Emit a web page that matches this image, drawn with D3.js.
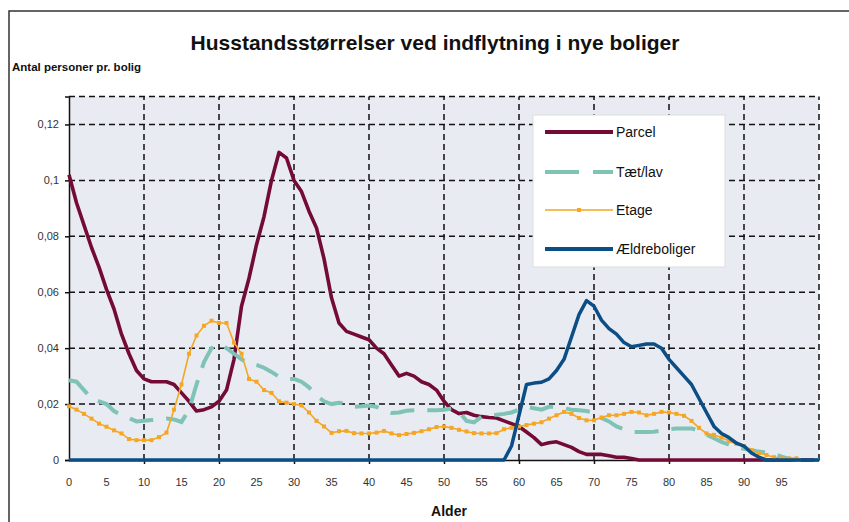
<!DOCTYPE html>
<html>
<head>
<meta charset="utf-8">
<script src="https://cdn.jsdelivr.net/npm/d3@7"></script>
<style>
  body { margin: 0; background: #fff; }
  svg { display: block; font-family: "Liberation Sans", Arial, sans-serif; }
</style>
</head>
<body>
<svg id="chart" width="849" height="522"></svg>
<script>
// ages 0..100
const ages = d3.range(0, 101);

const parcel = [
  0.102, 0.092, 0.084, 0.076, 0.069, 0.061, 0.054, 0.045, 0.038, 0.032,
  0.029, 0.028, 0.028, 0.028, 0.027, 0.024, 0.021, 0.0175, 0.018, 0.019,
  0.021, 0.025, 0.036, 0.055, 0.065, 0.077, 0.087, 0.1, 0.11, 0.108,
  0.1, 0.096, 0.089, 0.083, 0.072, 0.058, 0.049, 0.046, 0.045, 0.044,
  0.043, 0.04, 0.038, 0.034, 0.03, 0.031, 0.03, 0.028, 0.027, 0.025,
  0.021, 0.018, 0.0166, 0.017, 0.016, 0.0155, 0.0152, 0.015, 0.014, 0.013,
  0.012, 0.01, 0.008, 0.0055, 0.0062, 0.0065, 0.0055, 0.0045, 0.003, 0.002,
  0.002, 0.002, 0.0015, 0.001, 0.001, 0.0005, 0, 0, 0, 0,
  0, 0, 0, 0, 0, 0, 0, 0, 0, 0,
  0, 0, 0, 0, 0, 0, 0, 0, 0, 0, 0
];

const taetLav = [
  0.0285, 0.028, 0.025, 0.022, 0.021, 0.02, 0.0175, 0.016, 0.015, 0.0138,
  0.014, 0.0143, 0.0145, 0.0148, 0.0145, 0.0136, 0.018, 0.027, 0.035, 0.04,
  0.0415, 0.04, 0.038, 0.036, 0.0345, 0.034, 0.033, 0.0315, 0.0298, 0.029,
  0.029, 0.028, 0.026, 0.023, 0.021, 0.02, 0.0205, 0.02, 0.019, 0.0192,
  0.0195, 0.019, 0.0178, 0.0168, 0.017, 0.0176, 0.0178, 0.0178, 0.0178, 0.0178,
  0.018, 0.0184, 0.0172, 0.014, 0.0135, 0.0155, 0.016, 0.0162, 0.0165, 0.017,
  0.018, 0.019, 0.0185, 0.018, 0.019, 0.019, 0.0185, 0.018, 0.0178, 0.0175,
  0.017, 0.015, 0.0138, 0.012, 0.011, 0.01, 0.01, 0.01, 0.0101, 0.0105,
  0.011, 0.0113, 0.0113, 0.0113, 0.0105, 0.009, 0.0078, 0.0065, 0.0055, 0.0045,
  0.004, 0.0035, 0.003, 0.0027, 0.0022, 0.0012, 0.0004, 0, 0, 0, 0
];

const etage = [
  0.0192, 0.018, 0.0165, 0.0148, 0.013, 0.0119, 0.0106, 0.0095, 0.0075, 0.0071,
  0.0071, 0.0071, 0.0082, 0.0098, 0.018, 0.027, 0.038, 0.0445, 0.048, 0.0498,
  0.049, 0.049, 0.042, 0.038, 0.029, 0.028, 0.025, 0.024, 0.021, 0.0205,
  0.02, 0.0195, 0.017, 0.014, 0.012, 0.0097, 0.0103, 0.0104, 0.0096, 0.0095,
  0.0095, 0.0098, 0.0104, 0.0095, 0.0089, 0.0093, 0.0097, 0.0103, 0.011, 0.0118,
  0.012, 0.0115, 0.0108, 0.0102, 0.0096, 0.0095, 0.0095, 0.0096, 0.011, 0.0115,
  0.012, 0.0125, 0.013, 0.0135, 0.0148, 0.016, 0.0172, 0.0165, 0.015, 0.0142,
  0.0142, 0.0152, 0.016, 0.016, 0.0165, 0.0172, 0.017, 0.016, 0.0165, 0.0172,
  0.017, 0.0165, 0.0158, 0.014, 0.0115, 0.0095, 0.009, 0.008, 0.0068, 0.0058,
  0.005, 0.0035, 0.0025, 0.0018, 0.001, 0.0006, 0.0006, 0.0006
];

const aeldre = [
  0, 0, 0, 0, 0, 0, 0, 0, 0, 0,
  0, 0, 0, 0, 0, 0, 0, 0, 0, 0,
  0, 0, 0, 0, 0, 0, 0, 0, 0, 0,
  0, 0, 0, 0, 0, 0, 0, 0, 0, 0,
  0, 0, 0, 0, 0, 0, 0, 0, 0, 0,
  0, 0, 0, 0, 0, 0, 0, 0, 0, 0.005,
  0.016, 0.027, 0.0275, 0.0278, 0.029, 0.032, 0.036, 0.044, 0.052, 0.057,
  0.055, 0.05, 0.047, 0.045, 0.042, 0.0405, 0.041, 0.0415, 0.0415, 0.04,
  0.036, 0.033, 0.03, 0.027, 0.022, 0.017, 0.012, 0.0095, 0.008, 0.006,
  0.005, 0.0025, 0.001, 0, 0, 0, 0, 0, 0, 0, 0
];

const seriesNames = ["Parcel", "Tæt/lav", "Etage", "Ældreboliger"];
const yTicks = [0, 0.02, 0.04, 0.06, 0.08, 0.1, 0.12];
const xLabelTicks = d3.range(0, 100, 5);
const xGridTicks = d3.range(10, 100, 10);

const svg = d3.select("#chart");

const x = d3.scaleLinear().domain([0, 100]).range([69, 819]);
const y = d3.scaleLinear().domain([0, 0.13]).range([460, 96.5]);

const daDK = d3.formatLocale({ decimal: ",", thousands: ".", grouping: [3], currency: ["", " kr."] });
const fmt = daDK.format(".2~f");

// outer frame
svg.append("rect")
  .attr("x", 9).attr("y", 11).attr("width", 900).attr("height", 600)
  .attr("fill", "none").attr("stroke", "#333").attr("stroke-width", 1.5);

svg.append("text")
  .attr("x", 435).attr("y", 50)
  .attr("text-anchor", "middle")
  .attr("font-size", 21).attr("font-weight", "bold").attr("fill", "#111")
  .text("Husstandsstørrelser ved indflytning i nye boliger");

svg.append("text")
  .attr("x", 12).attr("y", 71)
  .attr("font-size", 11.5).attr("font-weight", "bold").attr("fill", "#111")
  .text("Antal personer pr. bolig");

// plot background
svg.append("rect")
  .attr("x", x(0)).attr("y", y(0.13))
  .attr("width", x(100) - x(0)).attr("height", y(0) - y(0.13))
  .attr("fill", "#e8ebf2");

const grid = svg.append("g")
  .attr("stroke", "#111").attr("stroke-width", 1.5).attr("stroke-dasharray", "6,4");

grid.selectAll(".hg").data(yTicks.filter(d => d > 0).concat([0.13]))
  .join("line")
  .attr("x1", x(0)).attr("x2", x(100))
  .attr("y1", d => y(d)).attr("y2", d => y(d));

grid.selectAll(".vg").data(xGridTicks.concat([100]))
  .join("line")
  .attr("y1", y(0)).attr("y2", y(0.13))
  .attr("x1", d => x(d)).attr("x2", d => x(d));

// axes
const yAxis = svg.append("g")
  .attr("transform", `translate(${x(0)},0)`)
  .call(d3.axisLeft(y).tickValues(yTicks).tickFormat(fmt).tickSize(4).tickPadding(6));
yAxis.select(".domain").attr("stroke", "#111").attr("stroke-width", 1.5);
yAxis.selectAll(".tick line").attr("stroke", "#111").attr("stroke-width", 1.5);
yAxis.selectAll("text").attr("font-size", 11).attr("fill", "#333")
  .attr("font-family", "'Liberation Sans', Arial, sans-serif");

const xAxis = svg.append("g")
  .attr("transform", `translate(0,${y(0)})`)
  .call(d3.axisBottom(x).tickValues(xGridTicks).tickFormat("").tickSize(4).tickSizeOuter(0));
xAxis.select(".domain").attr("stroke", "#111").attr("stroke-width", 1.5);
xAxis.selectAll(".tick line").attr("stroke", "#111").attr("stroke-width", 1.5);

svg.append("g")
  .selectAll("text").data(xLabelTicks)
  .join("text")
  .attr("x", d => x(d)).attr("y", 486)
  .attr("text-anchor", "middle")
  .attr("font-size", 11).attr("fill", "#333")
  .text(d => d);

svg.append("text")
  .attr("x", 449).attr("y", 516)
  .attr("text-anchor", "middle")
  .attr("font-size", 14).attr("font-weight", "bold").attr("fill", "#111")
  .text("Alder");

// lines
const line = d3.line().x((d, i) => x(ages[i])).y(d => y(d));

svg.append("path").datum(parcel)
  .attr("d", line).attr("fill", "none")
  .attr("stroke", "#740b37").attr("stroke-width", 3.6).attr("stroke-linejoin", "round");

svg.append("path").datum(taetLav)
  .attr("d", line).attr("fill", "none")
  .attr("stroke", "#7fc2b6").attr("stroke-width", 4).attr("stroke-dasharray", "24,13");

svg.append("path").datum(etage)
  .attr("d", line).attr("fill", "none")
  .attr("stroke", "#f5a623").attr("stroke-width", 1.6);

svg.append("g").selectAll("rect").data(etage)
  .join("rect")
  .attr("x", (d, i) => x(ages[i]) - 2).attr("y", d => y(d) - 2)
  .attr("width", 4).attr("height", 4)
  .attr("fill", "#f5a623");

svg.append("path").datum(aeldre)
  .attr("d", line).attr("fill", "none")
  .attr("stroke", "#0b4d85").attr("stroke-width", 3.5).attr("stroke-linejoin", "round");

// legend
const legend = svg.append("g");
legend.append("rect")
  .attr("x", 533).attr("y", 115).attr("width", 192).attr("height", 152)
  .attr("fill", "#fff").attr("stroke", "#ddd");

const legendStyles = [
  { color: "#740b37", width: 4, dash: null, marker: false },
  { color: "#7fc2b6", width: 4, dash: "34,14", marker: false },
  { color: "#f5a623", width: 1.6, dash: null, marker: true },
  { color: "#0b4d85", width: 4, dash: null, marker: false }
];
const legendY = [132, 172, 210, 249];

seriesNames.forEach((name, i) => {
  const s = legendStyles[i];
  const ly = legendY[i];
  legend.append("line")
    .attr("x1", 545).attr("x2", 613).attr("y1", ly).attr("y2", ly)
    .attr("stroke", s.color).attr("stroke-width", s.width)
    .attr("stroke-dasharray", s.dash);
  if (s.marker) {
    legend.append("rect")
      .attr("x", 577).attr("y", ly - 2).attr("width", 4).attr("height", 4)
      .attr("fill", s.color);
  }
  legend.append("text")
    .attr("x", 616).attr("y", ly + 5)
    .attr("font-size", 14).attr("fill", "#111")
    .text(name);
});
</script>
</body>
</html>
